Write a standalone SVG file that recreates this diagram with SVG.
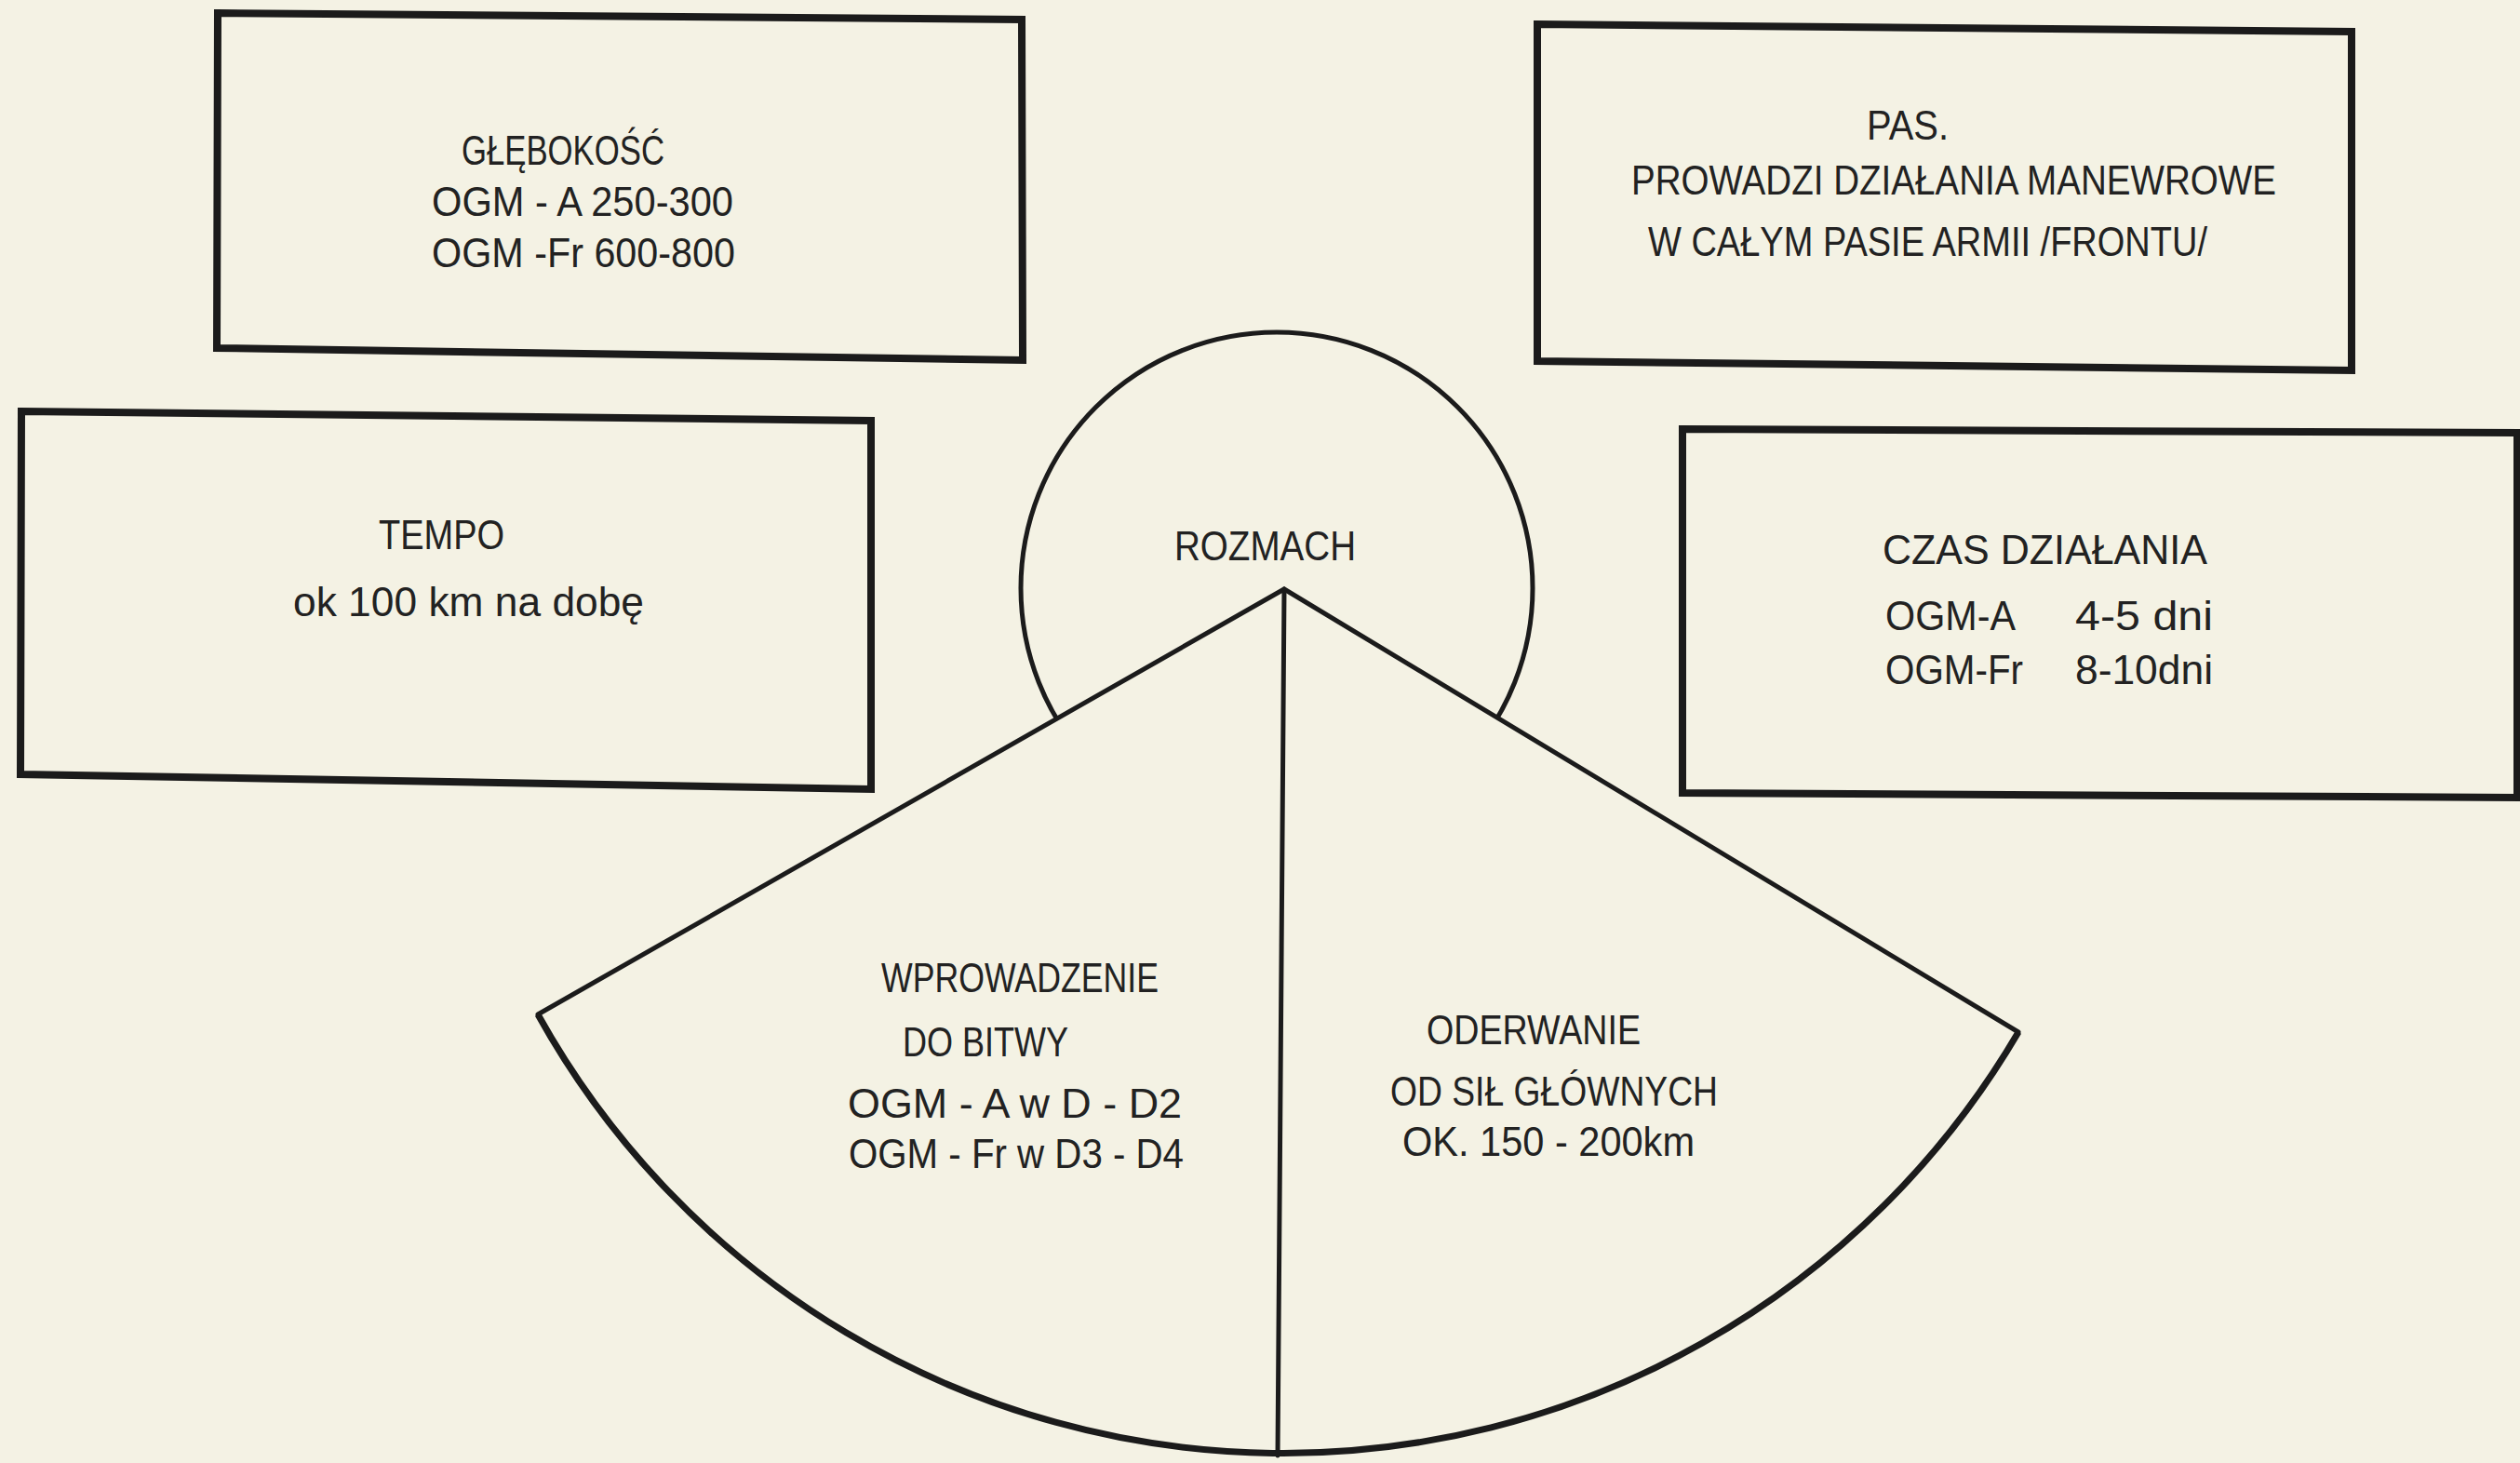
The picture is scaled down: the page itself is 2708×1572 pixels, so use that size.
<svg xmlns="http://www.w3.org/2000/svg" width="2708" height="1572" viewBox="0 0 2708 1572" xml:space="preserve">
<style>
.box{fill:none;stroke:#1b1b1b;stroke-width:8;stroke-linejoin:miter}
.t{font-family:"Liberation Sans","DejaVu Sans",sans-serif;fill:#222;font-size:44px;font-weight:normal}
.line{stroke:#1b1b1b;stroke-width:5;fill:none;stroke-linecap:round}
.arc{stroke:#1b1b1b;stroke-width:7;fill:none}
</style>
<rect x="0" y="0" width="2708" height="1572" fill="#f4f2e4"/>

<g id="node-glebokosc">
<polygon class="box" points="234,14 1098,21 1099,387 233,374"/>
<text class="t" x="496" y="177" textLength="218" lengthAdjust="spacingAndGlyphs">GŁĘBOKOŚĆ</text>
<text class="t" x="464" y="232" textLength="324" lengthAdjust="spacingAndGlyphs">OGM - A   250-300</text>
<text class="t" x="464" y="287" textLength="326" lengthAdjust="spacingAndGlyphs">OGM -Fr   600-800</text>
</g>

<g id="node-pas">
<polygon class="box" points="1652,26 2527,34 2527,398 1652,388"/>
<text class="t" x="2006" y="150" font-size="40" textLength="88" lengthAdjust="spacingAndGlyphs">PAS.</text>
<text class="t" x="1753" y="209" font-size="40" textLength="693" lengthAdjust="spacingAndGlyphs">PROWADZI  DZIAŁANIA  MANEWROWE</text>
<text class="t" x="1771" y="275" font-size="40" textLength="601" lengthAdjust="spacingAndGlyphs">W CAŁYM  PASIE ARMII /FRONTU/</text>
</g>

<g id="node-tempo">
<polygon class="box" points="23,442 936,452 936,848 22,832"/>
<text class="t" x="407" y="590" font-size="46" textLength="135" lengthAdjust="spacingAndGlyphs">TEMPO</text>
<text class="t" x="315" y="662" font-size="46" textLength="377" lengthAdjust="spacingAndGlyphs">ok  100 km  na  dobę</text>
</g>

<g id="node-czas">
<polygon class="box" points="1808,461 2705,465 2705,857 1808,852"/>
<text class="t" x="2023" y="606" font-size="42" textLength="349" lengthAdjust="spacingAndGlyphs">CZAS  DZIAŁANIA</text>
<text class="t" x="2026" y="677" textLength="140" lengthAdjust="spacingAndGlyphs">OGM-A</text>
<text class="t" x="2230" y="677" textLength="148" lengthAdjust="spacingAndGlyphs">4-5 dni</text>
<text class="t" x="2026" y="735" textLength="148" lengthAdjust="spacingAndGlyphs">OGM-Fr</text>
<text class="t" x="2230" y="735" textLength="148" lengthAdjust="spacingAndGlyphs">8-10dni</text>
</g>

<g id="node-rozmach">
<circle cx="1372" cy="632" r="275" fill="#f4f2e4" stroke="#1b1b1b" stroke-width="5"/>
<text class="t" x="1262" y="602" font-size="46" textLength="195" lengthAdjust="spacingAndGlyphs">ROZMACH</text>
</g>

<g id="node-sector">
<path d="M1380 633 L578 1090 A916 916 0 0 0 2169 1109 Z" fill="#f4f2e4" stroke="none"/>
<path class="arc" d="M578 1090 A916 916 0 0 0 2169 1109"/>
<polyline class="line" points="578,1090 1380,633 2169,1109"/>
</g>

<g id="connectors">
<line class="line" x1="1380" y1="633" x2="1373" y2="1564"/>
</g>

<g id="node-wprowadzenie">
<text class="t" x="947" y="1066" font-size="42" textLength="298" lengthAdjust="spacingAndGlyphs">WPROWADZENIE</text>
<text class="t" x="970" y="1135" font-size="42" textLength="178" lengthAdjust="spacingAndGlyphs">DO BITWY</text>
<text class="t" x="911" y="1201" font-size="46" textLength="359" lengthAdjust="spacingAndGlyphs">OGM - A  w  D - D2</text>
<text class="t" x="912" y="1255" font-size="46" textLength="360" lengthAdjust="spacingAndGlyphs">OGM - Fr w  D3 - D4</text>
</g>

<g id="node-oderwanie">
<text class="t" x="1533" y="1122" font-size="42" textLength="230" lengthAdjust="spacingAndGlyphs">ODERWANIE</text>
<text class="t" x="1494" y="1188" font-size="42" textLength="352" lengthAdjust="spacingAndGlyphs">OD  SIŁ  GŁÓWNYCH</text>
<text class="t" x="1507" y="1242" font-size="40" textLength="314" lengthAdjust="spacingAndGlyphs">OK.  150 - 200km</text>
</g>
</svg>
